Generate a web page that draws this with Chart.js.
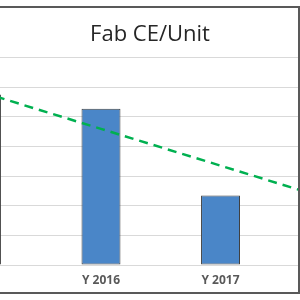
<!DOCTYPE html>
<html>
<head>
<meta charset="utf-8">
<script src="https://cdn.jsdelivr.net/npm/chart.js@4"></script>
<style>
  html, body { margin: 0; padding: 0; background: #fff; overflow: hidden; }
  #wrap { position: relative; width: 300px; height: 300px; }
  #frame {
    position: absolute; left: -10px; top: 6px; width: 310px; height: 288px;
    box-sizing: border-box; border: 2px solid #595959; pointer-events: none;
  }
</style>
</head>
<body>
<div id="wrap">
  <canvas id="ceChart" width="300" height="300"></canvas>
  <div id="frame"></div>
</div>
<script>
// categories shown on the x axis (first one is cut off by the crop)
const categories = ['Y 2015', 'Y 2016', 'Y 2017'];
// Fab CE per unit
const ceValues = [57.5, 52.7, 23.4];
// dashed linear trend (extends past the last bar)
const trendValues = [58.3, 45.9, 33.5, 21.1];
const yTicks = [0, 10, 20, 30, 40, 50, 60, 70];

const barData = ceValues.map((v, i) => ({ x: i, y: v }));
const trendData = trendValues.map((v, i) => ({ x: i, y: v }));

const ctx = document.getElementById('ceChart').getContext('2d');
const ceChart = new Chart(ctx, {
    type: 'bar',
    data: {
        datasets: [{
            type: 'line',
            label: 'Trend',
            data: trendData,
            borderColor: '#00B050',
            borderWidth: 2.5,
            borderDash: [9, 6],
            pointRadius: 0,
            tension: 0,
            fill: false,
            order: 0
        }, {
            type: 'bar',
            label: 'Fab CE/Unit',
            data: barData,
            backgroundColor: '#4A86C8',
            borderColor: '#404040',
            borderWidth: 1,
            borderSkipped: false,
            categoryPercentage: 1,
            barPercentage: 0.326,
            order: 1
        }]
    },
    options: {
        responsive: false,
        animation: false,
        layout: {
            padding: { top: 8, right: 0, bottom: 4.6, left: 0 }
        },
        scales: {
            x: {
                type: 'linear',
                offset: false,
                bounds: 'data',
                min: 0.155,
                max: 2.665,
                grid: { display: false, offset: false, drawTicks: false, tickLength: 0 },
                border: { display: false },
                afterBuildTicks: function(axis) {
                    axis.ticks = [{ value: 1 }, { value: 2 }];
                },
                ticks: {
                    padding: 8,
                    color: '#595959',
                    font: { family: 'Open Sans', size: 12, weight: 'bold' },
                    callback: function(value) {
                        return categories[value] || '';
                    }
                }
            },
            y: {
                min: yTicks[0],
                max: yTicks[yTicks.length - 1],
                afterBuildTicks: function(axis) {
                    axis.ticks = yTicks.map(v => ({ value: v }));
                },
                ticks: { display: false },
                border: { display: false },
                grid: { color: '#D9D9D9', lineWidth: 1, drawTicks: false }
            }
        },
        plugins: {
            legend: { display: false },
            tooltip: { enabled: false },
            title: {
                display: true,
                text: 'Fab CE/Unit',
                color: '#262626',
                font: { family: 'Open Sans', size: 22, weight: 'normal', lineHeight: 1.2 },
                padding: { top: 14, bottom: 9 }
            }
        }
    }
});
</script>
</body>
</html>
